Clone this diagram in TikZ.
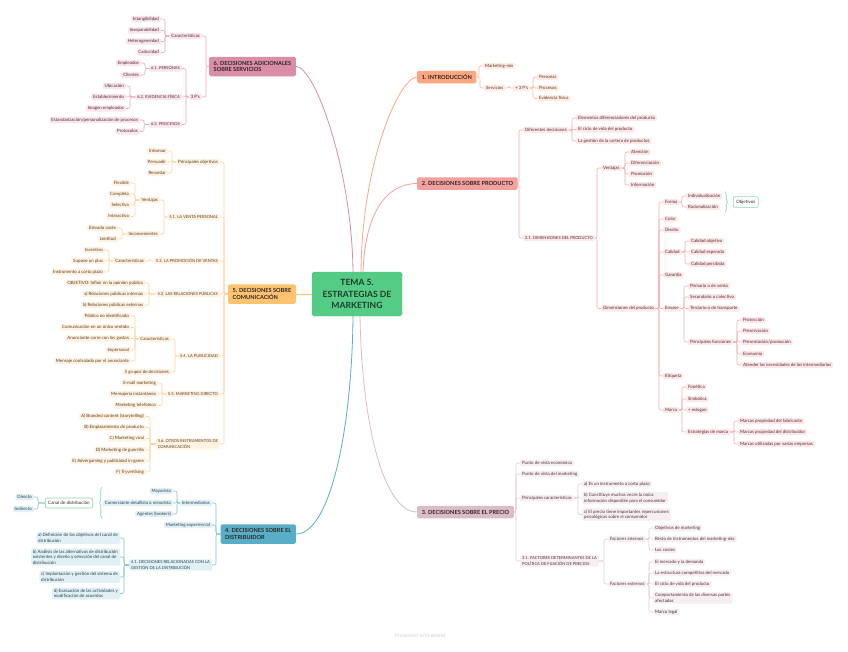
\documentclass[tikz,border=0pt]{standalone}
\usepackage{fontspec}
\setmainfont{Lato}
\usetikzlibrary{calc,decorations.pathreplacing}
\definecolor{tc1}{HTML}{FCA780}\definecolor{lc1}{HTML}{FDB899}\definecolor{fc1}{HTML}{FEEDE5}\definecolor{xc1}{HTML}{5C2E1E}
\definecolor{tc2}{HTML}{F3A09F}\definecolor{lc2}{HTML}{F6AEAD}\definecolor{fc2}{HTML}{FCE8E8}\definecolor{xc2}{HTML}{5A2828}
\definecolor{tc3}{HTML}{DCBCC6}\definecolor{lc3}{HTML}{E4CAD2}\definecolor{fc3}{HTML}{F7EEF1}\definecolor{xc3}{HTML}{4A3038}
\definecolor{tc4}{HTML}{58AEC6}\definecolor{lc4}{HTML}{7CC2D6}\definecolor{fc4}{HTML}{E1F0F5}\definecolor{xc4}{HTML}{24424D}
\definecolor{tc5}{HTML}{FFC26F}\definecolor{lc5}{HTML}{FFD49C}\definecolor{fc5}{HTML}{FFF2E2}\definecolor{xc5}{HTML}{5A3A1A}
\definecolor{tc6}{HTML}{DA8DA6}\definecolor{lc6}{HTML}{E5A9BC}\definecolor{fc6}{HTML}{F9E6EC}\definecolor{xc6}{HTML}{552638}
\definecolor{cgreen}{HTML}{55CC85}\definecolor{bgreen}{HTML}{86D6A8}\definecolor{ctext}{HTML}{1F3B2D}
\definecolor{ttext}{HTML}{2E2424}\definecolor{foot}{HTML}{E3CDD6}
\tikzset{
  sm/.style={rounded corners=1.3pt, inner xsep=1.9pt, inner ysep=1.1pt,
    font=\fontsize{4.42}{5.5}\selectfont, text height=3.25pt, text depth=0.9pt},
  uc/.style={font=\fontsize{4.05}{5.5}\selectfont},
  ml/.style={text height=, text depth=, align=left, inner ysep=1.3pt},
  n1/.style={sm, fill=fc1, text=xc1}, n2/.style={sm, fill=fc2, text=xc2},
  n3/.style={sm, fill=fc3, text=xc3}, n4/.style={sm, fill=fc4, text=xc4},
  n5/.style={sm, fill=fc5, text=xc5}, n6/.style={sm, fill=fc6, text=xc6},
  R/.style={anchor=west}, L/.style={anchor=east},
  l1/.style={draw=lc1, line width=0.55pt, rounded corners=2pt},
  l2/.style={draw=lc2, line width=0.55pt, rounded corners=2pt},
  l3/.style={draw=lc3, line width=0.55pt, rounded corners=2pt},
  l4/.style={draw=lc4, line width=0.55pt, rounded corners=2pt},
  l5/.style={draw=lc5, line width=0.55pt, rounded corners=2pt},
  l6/.style={draw=lc6, line width=0.55pt, rounded corners=2pt},
  tp/.style={rounded corners=1.5pt, inner xsep=4.6pt, minimum height=12.5pt,
    font=\fontsize{5.6}{6.6}\selectfont\bfseries, text=ttext},
  tp2/.style={tp, align=left, minimum height=19.5pt},
  ctrs/.style={rounded corners=1.8pt, fill=cgreen, draw=cgreen!85!black!60!cgreen, line width=0.3pt,
    minimum width=90pt, minimum height=44pt, align=center,
    font=\fontsize{8.6}{11.5}\selectfont\bfseries, text=ctext},
  gbox/.style={rounded corners=2pt, draw=bgreen, fill=white, line width=0.6pt,
    inner xsep=3pt, minimum height=10pt, font=\fontsize{4.5}{5.5}\selectfont, text=ttext},
  brc/.style={draw=bgreen, line width=0.6pt, decorate},
  mainc/.style={line width=0.8pt},
}
\newcommand\lkR[3]{\foreach \ch in {#3}{\draw[#1] (#2.east) -| ($(\ch.west)+(-4,0)$) -- (\ch.west);}}
\newcommand\lkL[3]{\foreach \ch in {#3}{\draw[#1] (#2.west) -| ($(\ch.east)+(4,0)$) -- (\ch.east);}}
\begin{document}
\begin{tikzpicture}[x=1pt,y=-1pt]
\useasboundingbox (0,0) rectangle (848,651);
\fill[white] (0,0) rectangle (848,651);

% ---------- center and topics
\node[ctrs] (ctr) at (357,294) {TEMA 5.\\ESTRATEGIAS DE\\MARKETING};
\node[tp, fill=tc1, R] (t1) at (417,77) {1. INTRODUCCIÓN};
\node[tp, fill=tc2, R] (t2) at (417,183.5) {2. DECISIONES SOBRE PRODUCTO};
\node[tp, fill=tc3, R] (t3) at (417,512) {3. DECISIONES SOBRE EL PRECIO};
\node[tp2, fill=tc4, L] (t4) at (296,534) {4. DECISIONES SOBRE EL\\DISTRIBUIDOR};
\node[tp2, fill=tc5, L] (t5) at (296,294) {5. DECISIONES SOBRE\\COMUNICACIÓN};
\node[tp2, fill=tc6, L] (t6) at (296,66.5) {6. DECISIONES ADICIONALES\\SOBRE SERVICIOS};

\draw[mainc, draw=tc6] ($(ctr.north)+(-4,0)$) .. controls (352,170) and (315,66.5) .. (t6.east);
\draw[mainc, draw=tc1] ($(ctr.north)+(4,0)$) .. controls (362,160) and (400,77) .. (t1.west);
\draw[mainc, draw=tc2] ($(ctr.north)+(6,0)$) .. controls (365,215) and (385,183.5) .. (t2.west);
\draw[mainc, draw=tc4] ($(ctr.south)+(-4,0)$) .. controls (352,430) and (330,534) .. (t4.east);
\draw[mainc, draw=tc3] ($(ctr.south)+(3,0)$) .. controls (362,430) and (385,512) .. (t3.west);
\draw[mainc, draw=tc5] (ctr.west) -- (t5.east);

% ---------- 1. INTRODUCCION
\node[n1,R] (mm) at (483,66) {Marketing-mix};
\node[n1,R] (serv) at (484,88) {Servicios};
\node[n1,R] (p3) at (513,88) {+ 3 P's};
\node[n1,R] (pers) at (537,77) {Personas};
\node[n1,R] (proc) at (537,88) {Procesos};
\node[n1,R] (evid) at (537,98.5) {Evidencia física};
\lkR{l1}{t1}{mm,serv}
\lkR{l1}{serv}{p3}
\lkR{l1}{p3}{pers,proc,evid}

% ---------- 2. PRODUCTO
\node[n2,R] (dd) at (523,130) {Diferentes decisiones};
\node[n2,R] (e1) at (576,118) {Elementos diferenciadores del producto};
\node[n2,R] (e2) at (576,129.5) {El ciclo de vida del producto};
\node[n2,R] (e3) at (576,141) {La gestión de la cartera de productos};
\node[n2,uc,R] (d21) at (523,238) {2.1. DIMENSIONES DEL PRODUCTO};
\node[n2,R] (vent) at (601,168) {Ventajas};
\node[n2,R] (at1) at (629,152) {Atención};
\node[n2,R] (at2) at (629,163) {Diferenciación};
\node[n2,R] (at3) at (629,174) {Promoción};
\node[n2,R] (at4) at (629,185) {Información};
\node[n2,R] (dim) at (601,308.5) {Dimensiones del producto};
\node[n2,R] (forma) at (663,202) {Forma};
\node[n2,R] (indiv) at (686,196) {Individualización};
\node[n2,R] (racio) at (686,207) {Racionalización};
\node[gbox,R] (obj) at (733,202) {Objetivos};
\draw[brc, decoration={brace, amplitude=2.5pt}] (725,191.5) -- (725,212.5);
\node[n2,R] (color) at (663,219) {Color};
\node[n2,R] (diseno) at (663,230) {Diseño};
\node[n2,R] (calid) at (663,252) {Calidad};
\node[n2,R] (cq1) at (689,241) {Calidad objetiva};
\node[n2,R] (cq2) at (689,252) {Calidad esperada};
\node[n2,R] (cq3) at (689,264) {Calidad percibida};
\node[n2,R] (garan) at (663,275) {Garantía};
\node[n2,R] (envase) at (663,308.5) {Envase};
\node[n2,R] (ev1) at (688,286) {Primario o de venta};
\node[n2,R] (ev2) at (688,297) {Secundario o colectivo};
\node[n2,R] (ev3) at (688,308.5) {Terciario o de transporte};
\node[n2,R] (pf) at (688,342) {Principales funciones};
\node[n2,R] (pf1) at (741,320) {Protección};
\node[n2,R] (pf2) at (741,331) {Preservación};
\node[n2,R] (pf3) at (741,342) {Presentación/promoción};
\node[n2,R] (pf4) at (741,354) {Economía};
\node[n2,R] (pf5) at (741,365) {Atender las necesidades de los intermediarios};
\node[n2,R] (etiq) at (663,376) {Etiqueta};
\node[n2,R] (marca) at (663,410) {Marca};
\node[n2,R] (mk1) at (686,387) {Fonética};
\node[n2,R] (mk2) at (686,399) {Simbólica};
\node[n2,R] (mk3) at (686,410) {+ eslogan};
\node[n2,R] (em) at (686,432) {Estrategias de marca};
\node[n2,R] (em1) at (738,421) {Marcas propiedad del fabricante};
\node[n2,R] (em2) at (738,432) {Marcas propiedad del distribuidor};
\node[n2,R] (em3) at (738,444) {Marcas utilizadas por varias empresas};
\lkR{l2}{t2}{dd,d21}
\lkR{l2}{dd}{e1,e2,e3}
\lkR{l2}{d21}{vent,dim}
\lkR{l2}{vent}{at1,at2,at3,at4}
\lkR{l2}{dim}{forma,color,diseno,calid,garan,envase,etiq,marca}
\lkR{l2}{forma}{indiv,racio}
\lkR{l2}{calid}{cq1,cq2,cq3}
\lkR{l2}{envase}{ev1,ev2,ev3,pf}
\lkR{l2}{pf}{pf1,pf2,pf3,pf4,pf5}
\lkR{l2}{marca}{mk1,mk2,mk3,em}
\lkR{l2}{em}{em1,em2,em3}

% ---------- 3. PRECIO
\node[n3,R] (pve) at (520,463) {Punto de vista económico};
\node[n3,R] (pvm) at (520,474) {Punto de vista del marketing};
\node[n3,R] (pc) at (520,498) {Principales características};
\node[n3,R] (pca) at (582,484) {a) Es un instrumento a corto plazo};
\node[n3,ml,R] (pcb) at (582,498) {b) Constituye muchas veces la única\\información disponible para el consumidor};
\node[n3,ml,R] (pcc) at (582,514.5) {c) El precio tiene importantes repercusiones\\psicológicas sobre el consumidor};
\node[n3,ml,uc,R] (f31) at (520,561) {3.1. FACTORES DETERMINANTES DE LA\\POLÍTICA DE FIJACIÓN DE PRECIOS};
\node[n3,R] (fi) at (608,539) {Factores internos};
\node[n3,R] (fi1) at (653,528) {Objetivos de marketing};
\node[n3,R] (fi2) at (653,539) {Resto de instrumentos del marketing-mix};
\node[n3,R] (fi3) at (653,550) {Los costes};
\node[n3,R] (fe) at (608,584) {Factores externos};
\node[n3,R] (fe1) at (653,562) {El mercado y la demanda};
\node[n3,R] (fe2) at (653,573) {La estructura competitiva del mercado};
\node[n3,R] (fe3) at (653,584) {El ciclo de vida del producto};
\node[n3,ml,R] (fe4) at (653,598) {Comportamiento de las diversas partes\\afectadas};
\node[n3,R] (fe5) at (653,612) {Marco legal};
\lkR{l3}{t3}{pve,pvm,pc,f31}
\lkR{l3}{pc}{pca,pcb,pcc}
\lkR{l3}{f31}{fi,fe}
\lkR{l3}{fi}{fi1,fi2,fi3}
\lkR{l3}{fe}{fe1,fe2,fe3,fe4,fe5}

% ---------- 4. DISTRIBUIDOR
\node[n4,L] (inter) at (212,503) {Intermediarios};
\node[n4,L] (may) at (173,491) {Mayorista};
\node[n4,L] (com) at (173,503) {Comerciante detallista o minorista};
\node[n4,L] (age) at (173,514) {Agentes (brokers)};
\draw[brc, decoration={brace, amplitude=2.5pt}] (102,518.5) -- (102,487);
\node[gbox,L] (canal) at (93,503) {Canal de distribución};
\node[n4,L] (dir) at (34,497) {Directo};
\node[n4,L] (ind) at (34,509) {Indirecto};
\node[n4,L] (mexp) at (212,525) {Marketing experiencial};
\node[n4,ml,uc,L] (d41) at (212,565) {4.1. DECISIONES RELACIONADAS CON LA\\GESTIÓN DE LA DISTRIBUCIÓN};
\node[n4,ml,L] (da) at (120,538) {a) Definición de los objetivos del canal de\\distribución};
\node[n4,ml,L] (db) at (120,557) {b) Análisis de las alternativas de distribución\\existentes y diseño y selección del canal de\\distribución};
\node[n4,ml,L] (dc) at (120,577) {c) Implantación y gestión del sistema de\\distribución};
\node[n4,ml,L] (dd4) at (120,593.5) {d) Evaluación de las actividades y\\modificación de acuerdos};
\lkL{l4}{t4}{inter,mexp,d41}
\lkL{l4}{inter}{may,com,age}
\lkL{l4}{canal}{dir,ind}
\lkL{l4}{d41}{da,db,dc,dd4}

% ---------- 5. COMUNICACION
\node[n5,L] (po) at (220,162) {Principales objetivos};
\node[n5,L] (inf) at (168,151) {Informar};
\node[n5,L] (per5) at (168,162) {Persuadir};
\node[n5,L] (rec) at (168,173) {Recordar};
\node[n5,uc,L] (v51) at (220,217) {5.1. LA VENTA PERSONAL};
\node[n5,L] (vj) at (160,200) {Ventajas};
\node[n5,L] (fl) at (131,183) {Flexible};
\node[n5,L] (co) at (131,194) {Completa};
\node[n5,L] (se) at (131,205) {Selectiva};
\node[n5,L] (it) at (131,216.5) {Interactiva};
\node[n5,L] (inc) at (160,234) {Inconvenientes};
\node[n5,L] (ec) at (118,228) {Elevado coste};
\node[n5,L] (le) at (118,239) {Lentitud};
\node[n5,uc,L] (v52) at (220,261) {5.2. LA PROMOCIÓN DE VENTAS};
\node[n5,L] (car52) at (146,261) {Características};
\node[n5,L] (ic) at (105,250) {Incentivo};
\node[n5,L] (sp) at (105,261) {Supone un plus};
\node[n5,L] (icp) at (105,272) {Instrumento a corto plazo};
\node[n5,uc,L] (v53) at (220,294) {5.3. LAS RELACIONES PÚBLICAS};
\node[n5,L] (ob53) at (145,283) {OBJETIVO: Influir en la opinión pública};
\node[n5,L] (rpi) at (145,294) {a) Relaciones públicas internas};
\node[n5,L] (rpe) at (145,305) {b) Relaciones públicas externas};
\node[n5,uc,L] (v54) at (220,356) {5.4. LA PUBLICIDAD};
\node[n5,L] (car54) at (171,339) {Características};
\node[n5,L] (pu1) at (131,316) {Público no identificado};
\node[n5,L] (pu2) at (131,327.5) {Comunicación en un único sentido};
\node[n5,L] (pu3) at (131,338.5) {Anunciante corre con los gastos};
\node[n5,L] (pu4) at (131,350) {Impersonal};
\node[n5,L] (pu5) at (131,361) {Mensaje controlado por el anunciante};
\node[n5,L] (g5) at (171,372) {5 grupos de decisiones};
\node[n5,uc,L] (v55) at (220,394) {5.5. MARKETING DIRECTO};
\node[n5,L] (em55) at (158,383) {E-mail marketing};
\node[n5,L] (mi) at (158,394) {Mensajería instantánea};
\node[n5,L] (mt) at (158,405.5) {Marketing telefónico};
\node[n5,ml,uc,L] (v56) at (220,444) {5.6. OTROS INSTRUMENTOS DE\\COMUNICACIÓN};
\node[n5,L] (oa) at (146,416.5) {A) Branded content (storytelling)};
\node[n5,L] (ob) at (146,427.5) {B) Emplazamiento de producto};
\node[n5,L] (oc) at (146,438.5) {C) Marketing viral};
\node[n5,L] (od) at (146,450) {D) Marketing de guerrilla};
\node[n5,L] (oe) at (146,461) {E) Advergaming y publicidad in-game};
\node[n5,L] (of) at (146,472) {F) Tryvertising};
\lkL{l5}{t5}{po,v51,v52,v53,v54,v55,v56}
\lkL{l5}{po}{inf,per5,rec}
\lkL{l5}{v51}{vj,inc}
\lkL{l5}{vj}{fl,co,se,it}
\lkL{l5}{inc}{ec,le}
\lkL{l5}{v52}{car52}
\lkL{l5}{car52}{ic,sp,icp}
\lkL{l5}{v53}{ob53,rpi,rpe}
\lkL{l5}{v54}{car54,g5}
\lkL{l5}{car54}{pu1,pu2,pu3,pu4,pu5}
\lkL{l5}{v55}{em55,mi,mt}
\lkL{l5}{v56}{oa,ob,oc,od,oe,of}

% ---------- 6. SERVICIOS
\node[n6,L] (car6) at (202,36) {Características};
\node[n6,L] (i1) at (161,19) {Intangibilidad};
\node[n6,L] (i2) at (161,30.5) {Inseparabilidad};
\node[n6,L] (i3) at (161,41.5) {Heterogeneidad};
\node[n6,L] (i4) at (161,52.5) {Caducidad};
\node[n6,L] (p6) at (202,97) {3 P's};
\node[n6,uc,L] (pe6) at (182,68.5) {6.1. PERSONAS};
\node[n6,L] (emp) at (141,63) {Empleados};
\node[n6,L] (cli) at (141,75) {Clientes};
\node[n6,uc,L] (ef6) at (182,97) {6.2. EVIDENCIA FÍSICA};
\node[n6,L] (ub) at (126,86) {Ubicación};
\node[n6,L] (est) at (126,97) {Establecimiento};
\node[n6,L] (ime) at (126,108.5) {Imagen empleados};
\node[n6,uc,L] (pr6) at (182,124.5) {6.3. PROCESOS};
\node[n6,L] (epp) at (140,120) {Estandarización/personalización de procesos};
\node[n6,L] (prot) at (140,131.5) {Protocolos};
\lkL{l6}{t6}{car6,p6}
\lkL{l6}{car6}{i1,i2,i3,i4}
\lkL{l6}{p6}{pe6,ef6,pr6}
\lkL{l6}{pe6}{emp,cli}
\lkL{l6}{ef6}{ub,est,ime}
\lkL{l6}{pr6}{epp,prot}

% ---------- footer
\node[font=\fontsize{5.2}{6}\selectfont, text=foot] (ft) at (420,636) {Presented with \textbf{xmind}};
\end{tikzpicture}
\end{document}
